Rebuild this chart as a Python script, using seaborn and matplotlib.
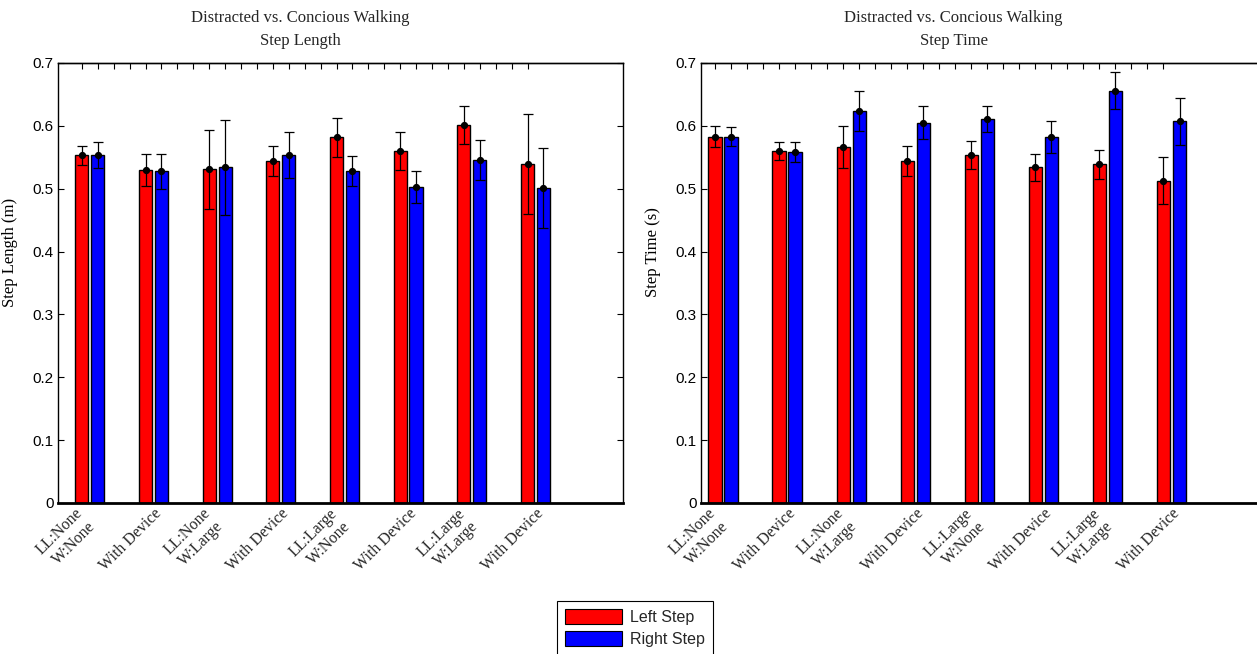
import numpy as np
import pandas as pd
import matplotlib
matplotlib.use("Agg")
import matplotlib.pyplot as plt
import seaborn as sns
from matplotlib.patches import Patch
import matplotlib.transforms as mtrans

# ---------------- data ----------------
conditions = ["LL:None\nW:None", "With Device", "LL:None\nW:Large", "With Device",
              "LL:Large\nW:None", "With Device", "LL:Large\nW:Large", "With Device"]
series = ["Left Step", "Right Step"]

len_left = [0.553, 0.530, 0.531, 0.544, 0.582, 0.560, 0.601, 0.539]
len_right = [0.554, 0.528, 0.534, 0.554, 0.528, 0.503, 0.546, 0.501]
len_left_err = [0.015, 0.025, 0.063, 0.024, 0.031, 0.031, 0.030, 0.080]
len_right_err = [0.021, 0.028, 0.076, 0.037, 0.024, 0.025, 0.032, 0.063]

time_left = [0.583, 0.560, 0.566, 0.544, 0.554, 0.534, 0.539, 0.513]
time_right = [0.583, 0.558, 0.624, 0.605, 0.611, 0.582, 0.656, 0.607]
time_left_err = [0.016, 0.015, 0.033, 0.024, 0.022, 0.021, 0.023, 0.037]
time_right_err = [0.015, 0.016, 0.032, 0.026, 0.021, 0.025, 0.029, 0.037]

y_ticks = [0, 0.1, 0.2, 0.3, 0.4, 0.5, 0.6, 0.7]
titles = ["Distracted vs. Concious Walking\nStep Length",
          "Distracted vs. Concious Walking\nStep Time"]
ylabels = ["Step Length (m)", "Step Time (s)"]
colors = {"Left Step": "#ff0000", "Right Step": "#0000ff"}

SERIF = ["Liberation Serif", "DejaVu Serif"]
SANS = ["Liberation Sans", "DejaVu Sans"]

sns.set_theme(style="white")
plt.rcParams["font.family"] = SANS


def make_df(left, right, lerr, rerr):
    rows = []
    for g in range(len(conditions)):
        rows.append({"pos": 4 * g + 1, "value": left[g], "err": lerr[g], "side": "Left Step"})
        rows.append({"pos": 4 * g + 2, "value": right[g], "err": rerr[g], "side": "Right Step"})
    return pd.DataFrame(rows)


dfs = [make_df(len_left, len_right, len_left_err, len_right_err),
       make_df(time_left, time_right, time_left_err, time_right_err)]

fig = plt.figure(figsize=(12.57, 6.54), dpi=100)
W, H = 1257.0, 654.0
ax_boxes = [(58, 63, 565, 440), (701, 63, 565, 440)]
xlims = [(-0.5, 35.0), (0.125, 35.4)]
title_x = [14.75, 15.9]

for i in range(2):
    x0, y0, w, h = ax_boxes[i]
    ax = fig.add_axes([x0 / W, 1 - (y0 + h) / H, w / W, h / H])
    df = dfs[i]
    sns.barplot(data=df, x="pos", y="value", hue="side", palette=colors,
                native_scale=True, dodge=False, width=0.83, errorbar=None,
                saturation=1, edgecolor="black", linewidth=1.0, ax=ax, legend=False)
    ax.errorbar(df["pos"], df["value"], yerr=df["err"], fmt="o", color="black",
                ecolor="black", elinewidth=0.9, capsize=3.5, capthick=0.9,
                markersize=4.2, zorder=5)
    ax.set_xlim(*xlims[i])
    ax.set_ylim(0, 0.7)
    ax.set_yticks(y_ticks)
    ax.set_yticklabels([f"{t:g}" for t in y_ticks], fontsize=11, family=SANS)
    ax.tick_params(axis="y", direction="in", length=4, width=0.8, left=True,
                   right=True, colors="black", pad=3)
    # bottom: category labels
    label_pos = [4 * g + 1.5 for g in range(len(conditions))]
    ax.set_xticks(label_pos)
    ax.set_xticklabels([])
    ax.tick_params(axis="x", bottom=False, top=False)
    for g, lab in enumerate(conditions):
        shift = 0.0 if "\n" not in lab else -0.95
        ax.text(label_pos[g] + shift, -0.004, lab, rotation=45, rotation_mode="anchor",
                ha="right", va="top", multialignment="right",
                fontsize=11.5, family=SERIF, linespacing=1.2,
                transform=ax.transData)
    # top minor ticks
    sec = ax.secondary_xaxis("top")
    sec.set_xticks(np.arange(1, 30))
    sec.set_xticklabels([])
    sec.tick_params(direction="in", length=4, width=0.8, colors="black")
    sec.spines["top"].set_linewidth(1.0)
    for s in ["left", "right", "top"]:
        ax.spines[s].set_visible(True)
        ax.spines[s].set_color("black")
        ax.spines[s].set_linewidth(1.0)
    ax.spines["bottom"].set_color("black")
    ax.spines["bottom"].set_linewidth(2.0)
    ax.set_xlabel("")
    ax.set_ylabel(ylabels[i], fontsize=12, family=SERIF, color="black")
    ax.yaxis.set_label_coords(-0.07, 0.57)
    ax.text(title_x[i], 1.0 + 14 / 440, titles[i], ha="center", va="bottom",
            fontsize=12, family=SERIF, linespacing=1.6,
            transform=mtrans.blended_transform_factory(ax.transData, ax.transAxes))
    ax.set_facecolor("white")

handles = [Patch(facecolor=colors[s], edgecolor="black", linewidth=0.8, label=s) for s in series]
leg = fig.legend(handles=handles, loc="upper center", bbox_to_anchor=(635 / W, 1 - 601 / H),
                 frameon=True, fancybox=False, edgecolor="black", framealpha=1,
                 prop={"family": SANS, "size": 11.5}, handlelength=3.6, handleheight=1.1,
                 borderpad=0.5, labelspacing=0.35, handletextpad=0.5, borderaxespad=0)
leg.get_frame().set_linewidth(0.8)

fig.savefig("out.png", dpi=100, facecolor="white")
